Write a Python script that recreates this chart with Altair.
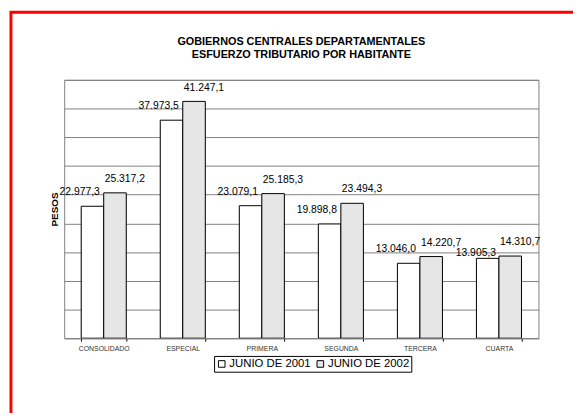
import altair as alt
import pandas as pd

categorias = ["CONSOLIDADO", "ESPECIAL", "PRIMERA", "SEGUNDA", "TERCERA", "CUARTA"]
series = ["JUNIO DE 2001", "JUNIO DE 2002"]
junio_2001 = [22977.3, 37973.5, 23079.1, 19898.8, 13046.0, 13905.3]
junio_2002 = [25317.2, 41247.1, 25185.3, 23494.3, 14220.7, 14310.7]
y_ticks = [0, 5000, 10000, 15000, 20000, 25000, 30000, 35000, 40000, 45000]


def fmt(v):
    s = f"{v:,.1f}"
    return s.replace(",", "X").replace(".", ",").replace("X", ".")


rows = []
for c, a, b in zip(categorias, junio_2001, junio_2002):
    rows.append({"cat": c, "serie": series[0], "valor": a, "etiqueta": fmt(a)})
    rows.append({"cat": c, "serie": series[1], "valor": b, "etiqueta": fmt(b)})
df = pd.DataFrame(rows)

FONT = "Liberation Sans"

x_enc = alt.X(
    "cat:N",
    sort=categorias,
    scale=alt.Scale(paddingInner=0.43, paddingOuter=0.215),
    axis=alt.Axis(
        title=None,
        labelFontSize=7,
        labelFont=FONT,
        labelColor="#333333",
        labelAngle=0,
        labelPadding=3,
        tickBand="extent",
        ticks=True,
        tickSize=3,
        tickColor="#000000",
        domainColor="#808080",
        grid=False,
        zindex=1,
    ),
)
xoff_enc = alt.XOffset("serie:N", sort=series, scale=alt.Scale(paddingInner=0, paddingOuter=0))
y_enc = alt.Y(
    "valor:Q",
    scale=alt.Scale(domain=[0, 45000], nice=False),
    axis=alt.Axis(
        title="PESOS",
        values=y_ticks,
        labels=False,
        ticks=False,
        domain=False,
        grid=True,
        gridColor="#808080",
        gridWidth=1,
        titleFont=FONT,
        titleFontSize=10,
        titleFontWeight="bold",
        titleColor="#000000",
        titlePadding=5,
    ),
)

base = alt.Chart(df)

shadow = base.mark_bar(
    color="black", xOffset=2, x2Offset=2, yOffset=2, clip=True
).encode(x=x_enc, xOffset=xoff_enc, y=y_enc)

bars = base.mark_bar(stroke="black", strokeWidth=1).encode(
    x=x_enc,
    xOffset=xoff_enc,
    y=y_enc,
    color=alt.Color(
        "serie:N",
        sort=series,
        scale=alt.Scale(domain=series, range=["#ffffff", "#e6e6e6"]),
        legend=alt.Legend(
            title=None,
            orient="none",
            legendX=152,
            legendY=280,
            direction="horizontal",
            strokeColor="black",
            fillColor="white",
            padding=2,
            symbolType="square",
            symbolSize=45,
            symbolStrokeColor="black",
            symbolStrokeWidth=1,
            labelFont=FONT,
            labelFontSize=11.5,
            labelColor="black",
            labelOffset=2,
            columnPadding=4,
        ),
    ),
)

text_style = dict(font=FONT, fontSize=10.5, color="black", baseline="middle")

lab1 = base.transform_filter(
    (alt.datum.serie == series[0]) & (alt.datum.cat != "CUARTA")
).mark_text(dx=-13, dy=-14, **text_style).encode(
    x=x_enc, xOffset=xoff_enc, y=y_enc, text="etiqueta:N"
)

lab1b = base.transform_filter(
    (alt.datum.serie == series[0]) & (alt.datum.cat == "CUARTA")
).mark_text(dx=-12, dy=-5, **text_style).encode(
    x=x_enc, xOffset=xoff_enc, y=y_enc, text="etiqueta:N"
)

lab2 = base.transform_filter(alt.datum.serie == series[1]).mark_text(
    dx=10, dy=-14, **text_style
).encode(x=x_enc, xOffset=xoff_enc, y=y_enc, text="etiqueta:N")

border = alt.Chart(alt.Data(values=[{}])).mark_rect(
    fill="transparent", stroke="red", strokeWidth=3, clip=False
).encode(
    x=alt.value(-54), x2=alt.value(560), y=alt.value(-68.5), y2=alt.value(420)
)

chart = (
    alt.layer(border, shadow, bars, lab1, lab1b, lab2)
    .properties(
        width=481,
        height=262,
        autosize=alt.AutoSizeParams(type="none"),
        padding={"left": 57, "top": 70, "right": 35, "bottom": 73},
        title=alt.TitleParams(
            ["GOBIERNOS CENTRALES DEPARTAMENTALES", "ESFUERZO TRIBUTARIO POR HABITANTE"],
            font=FONT,
            fontSize=11,
            fontWeight="bold",
            color="black",
            anchor="middle",
            frame="group",
            lineHeight=13,
            offset=20,
            dy=70,
        ),
        background="white",
    )
    .configure_view(stroke="#808080", strokeWidth=1)
)

chart.save("out.html", embed_options={"renderer": "svg", "actions": False})
